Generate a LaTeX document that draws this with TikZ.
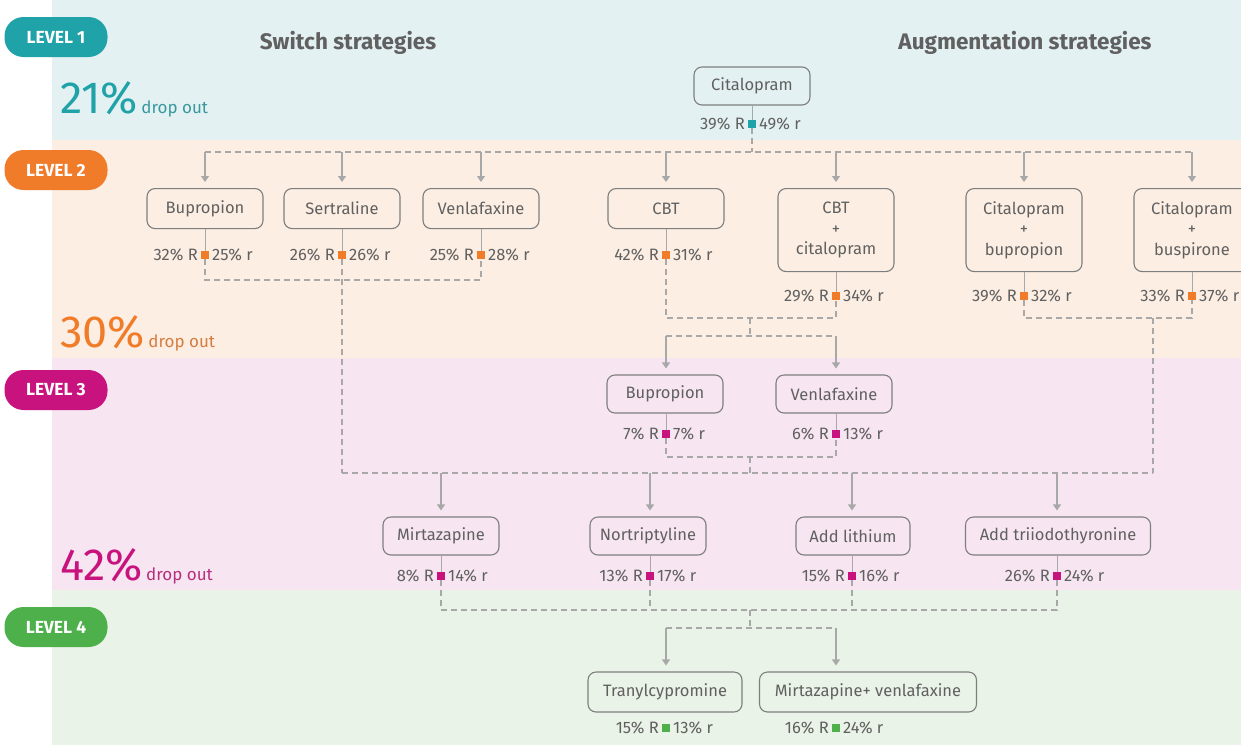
\documentclass[tikz,border=0pt]{standalone}
\usepackage{fontspec}
\setmainfont{Fira Sans}
\usetikzlibrary{arrows.meta,calc}
\definecolor{tealc}{HTML}{1FA2A8}
\definecolor{orangec}{HTML}{F07C2A}
\definecolor{magc}{HTML}{C8137E}
\definecolor{greenc}{HTML}{4DB04A}
\definecolor{bgone}{HTML}{E4F1F2}
\definecolor{bgtwo}{HTML}{FCEEE3}
\definecolor{bgthree}{HTML}{F7E6F1}
\definecolor{bgfour}{HTML}{EAF3E7}
\definecolor{txt}{HTML}{606060}
\definecolor{bord}{HTML}{7E7E7E}
\definecolor{dashc}{HTML}{A8A8A8}
\newcommand\statline[6]{%
  \node[sq=#4] (#1) at (#2,#3) {};
  \node[stl] (#1l) at (#1.west) {#5};
  \node[str] (#1r) at (#1.east) {#6};}
\begin{document}
\begin{tikzpicture}[x=1pt,y=-1pt,
  box/.style={draw=bord,line width=1.1pt,rounded corners=8pt,minimum width=116pt,
    minimum height=40pt,text=txt,font=\fontsize{16.5}{20.5}\selectfont,inner sep=2pt,align=center},
  sq/.style={fill=#1,minimum size=8.5pt,inner sep=0pt},
  stl/.style={anchor=east,text=txt,font=\fontsize{16.5}{18}\selectfont,inner sep=2.5pt},
  str/.style={anchor=west,text=txt,font=\fontsize{16.5}{18}\selectfont,inner sep=2.5pt},
  dl/.style={draw=dashc,line width=1.1pt,dash pattern=on 6pt off 4pt},
  thin/.style={draw=dashc,line width=0.6pt},
  arr/.style={draw=dashc,line width=1.1pt,-{Triangle[width=8pt,length=6pt]},shorten >=6pt},
  badge/.style={fill=#1,rounded corners=19pt,minimum width=103pt,minimum height=40pt,
    text=white,font=\bfseries\fontsize{17.5}{19}\selectfont,inner sep=0pt},
  head/.style={text=txt,font=\bfseries\fontsize{22.5}{26}\selectfont},
  pct/.style={anchor=base west,text=#1,font=\fontsize{45}{48}\selectfont,inner sep=0pt},
  dro/.style={anchor=base west,text=#1,font=\fontsize{17}{19}\selectfont,inner sep=0pt},
]
\useasboundingbox (0,0) rectangle (1241,745);
\fill[white] (0,0) rectangle (1241,745);
\fill[bgone] (52,0) rectangle (1241,140);
\fill[bgtwo] (52,140) rectangle (1241,358);
\fill[bgthree] (52,358) rectangle (1241,590);
\fill[bgfour] (52,590) rectangle (1241,745);

% badges
\node[badge=tealc] (L1) at (56,37) {LEVEL 1};
\node[badge=orangec] (L2) at (56,170) {LEVEL 2};
\node[badge=magc] (L3) at (56,390) {LEVEL 3};
\node[badge=greenc] (L4) at (56,627) {LEVEL 4};

% headings
\node[head] (h1) at (348,43) {Switch strategies};
\node[head] (h2) at (1025,43) {Augmentation strategies};

% drop outs
\node[pct=tealc] (d1) at (60,113) {21\%};
\node[dro=tealc!75!gray] (d1t) at ([xshift=3pt]d1.base east) {drop out};
\node[pct=orangec] (d2) at (60,347) {30\%};
\node[dro=orangec!75!gray] (d2t) at ([xshift=3pt]d2.base east) {drop out};
\node[pct=magc] (d3) at (60,580) {42\%};
\node[dro=magc!75!gray] (d3t) at ([xshift=3pt]d3.base east) {drop out};

% level 1
\node[box,minimum height=38pt] (cit) at (752,86) {Citalopram};
\statline{s1}{752}{124}{tealc}{39\% R}{49\% r}

% level 2
\node[box,anchor=north] (b1) at (205,188) {Bupropion};
\node[box,anchor=north] (b2) at (342,188) {Sertraline};
\node[box,anchor=north] (b3) at (481,188) {Venlafaxine};
\node[box,anchor=north] (b4) at (666,188) {CBT};
\node[box,anchor=north,minimum height=83pt] (b5) at (836,188) {CBT\\+\\citalopram};
\node[box,anchor=north,minimum height=83pt] (b6) at (1024,188) {Citalopram\\+\\bupropion};
\node[box,anchor=north,minimum height=83pt] (b7) at (1192,188) {Citalopram\\+\\buspirone};
\statline{s2a}{205}{255}{orangec}{32\% R}{25\% r}
\statline{s2b}{342}{255}{orangec}{26\% R}{26\% r}
\statline{s2c}{481}{255}{orangec}{25\% R}{28\% r}
\statline{s2d}{666}{255}{orangec}{42\% R}{31\% r}
\statline{s2e}{836}{296}{orangec}{29\% R}{34\% r}
\statline{s2f}{1024}{296}{orangec}{39\% R}{32\% r}
\statline{s2g}{1192}{296}{orangec}{33\% R}{37\% r}

% level 3
\node[box,minimum height=38pt] (b8) at (665,394) {Bupropion};
\node[box,minimum height=38pt] (b9) at (834,394) {Venlafaxine};
\statline{s3a}{666}{434}{magc}{7\% R}{7\% r}
\statline{s3b}{836}{434}{magc}{6\% R}{13\% r}
\node[box,minimum height=38pt] (b10) at (441,536) {Mirtazapine};
\node[box,minimum height=38pt] (b11) at (648,536) {Nortriptyline};
\node[box,minimum height=38pt,minimum width=114pt] (b12) at (853,536) {Add lithium};
\node[box,minimum height=38pt,minimum width=185pt] (b13) at (1058,536) {Add triiodothyronine};
\statline{s3c}{441}{576}{magc}{8\% R}{14\% r}
\statline{s3d}{650}{576}{magc}{13\% R}{17\% r}
\statline{s3e}{852}{576}{magc}{15\% R}{16\% r}
\statline{s3f}{1057}{576}{magc}{26\% R}{24\% r}

% level 4
\node[box,minimum width=154pt] (b14) at (665,692) {Tranylcypromine};
\node[box,minimum width=217pt] (b15) at (868,692) {Mirtazapine+ venlafaxine};
\statline{s4a}{666}{728}{greenc}{15\% R}{13\% r}
\statline{s4b}{836}{728}{greenc}{16\% R}{24\% r}

% thin stems from boxes to stat squares
\foreach \b/\s in {cit/s1,b1/s2a,b2/s2b,b3/s2c,b4/s2d,b5/s2e,b6/s2f,b7/s2g,b8/s3a,b9/s3b,b10/s3c,b11/s3d,b12/s3e,b13/s3f}
  \draw[thin] (\s |- \b.south) -- (\s.north);

% junction coordinates
\coordinate (j1) at (752,152);
\coordinate (j2a) at (342,280);
\coordinate (j2b) at (750,318);
\coordinate (j2c) at (750,336);
\coordinate (j2d) at (1153,318);
\coordinate (j3a) at (750,457);
\coordinate (j3) at (750,473);
\coordinate (j4a) at (750,610);
\coordinate (j4b) at (750,628);

% level 1 -> level 2
\draw[dl] (s1.south) -- (j1);
\draw[dl] (b1.north |- j1) -- (b7.north |- j1);
\foreach \b in {b1,b2,b3,b4,b5,b6,b7}
  \draw[arr] (\b.north |- j1) -- (\b.north);

% switch group
\draw[dl] (s2a.south) -- (s2a |- j2a) -- (s2c |- j2a) -- (s2c.south);
\draw[dl] (s2b.south) -- (s2b |- j3);

% CBT group -> level 3
\draw[dl] (s2d.south) -- (s2d |- j2b) -- (s2e |- j2b) -- (s2e.south);
\draw[dl] (j2b) -- (j2c);
\draw[dl] (s2d |- j2c) -- (s2e |- j2c);
\draw[arr] (s2d |- j2c) -- (s2d |- b8.north);
\draw[arr] (s2e |- j2c) -- (s2e |- b9.north);

% augmentation group
\draw[dl] (s2f.south) -- (s2f |- j2d) -- (s2g |- j2d) -- (s2g.south);
\draw[dl] (j2d) -- (j2d |- j3);

% level 3 upper group
\draw[dl] (s3a.south) -- (s3a |- j3a) -- (s3b |- j3a) -- (s3b.south);
\draw[dl] (j3a) -- (j3);
\draw[dl] (s2b |- j3) -- (j2d |- j3);
\foreach \b/\s in {b10/s3c,b11/s3d,b12/s3e,b13/s3f}
  \draw[arr] (\s |- j3) -- (\s |- \b.north);

% level 3 lower -> level 4
\draw[dl] (s3c.south) -- (s3c |- j4a) -- (s3f |- j4a) -- (s3f.south);
\draw[dl] (s3d.south) -- (s3d |- j4a);
\draw[dl] (s3e.south) -- (s3e |- j4a);
\draw[dl] (j4a) -- (j4b);
\draw[dl] (s4a |- j4b) -- (s4b |- j4b);
\draw[arr] (s4a |- j4b) -- (s4a |- b14.north);
\draw[arr] (s4b |- j4b) -- (s4b |- b15.north);
\end{tikzpicture}
\end{document}
